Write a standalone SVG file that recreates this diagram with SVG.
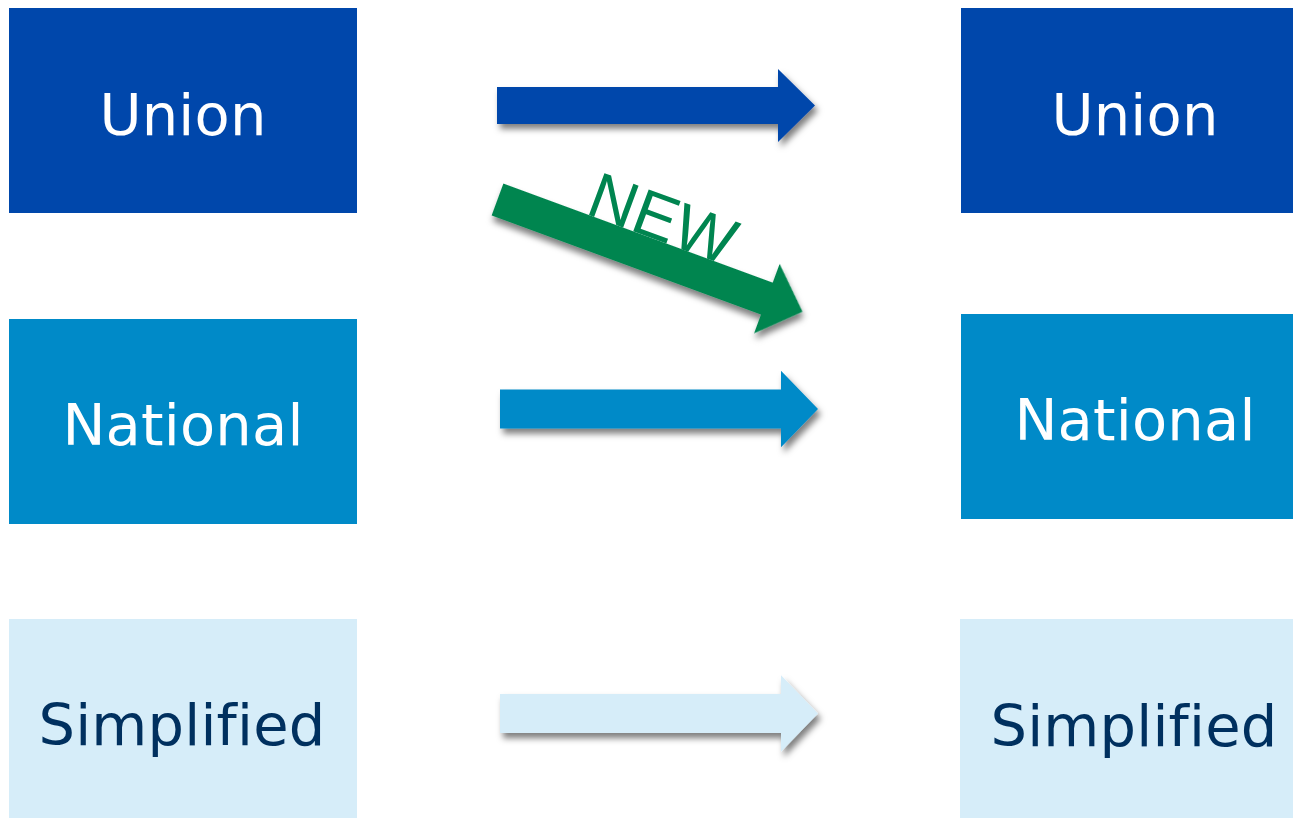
<svg xmlns="http://www.w3.org/2000/svg" width="1293" height="818" viewBox="0 0 1293 818">
<style>
.lbl{font-family:"DejaVu Sans","Verdana",sans-serif;font-size:57.5px;text-anchor:middle;font-variant-ligatures:none;font-feature-settings:"liga" 0;letter-spacing:0.2px}
.w{fill:#ffffff}
.d{fill:#00305f}
.u{fill:#0047AB}
.n{fill:#008AC8}
.s{fill:#D6EDF9}
.g{fill:#008550}
</style>
<defs>
<filter id="sh" x="-10%" y="-30%" width="125%" height="170%">
<feDropShadow dx="3" dy="5" stdDeviation="3" flood-color="#000" flood-opacity="0.5"/>
</filter>
<path id="arr" d="M0,-18.5 H281 V-36.5 L318,0 L281,36.5 V18.5 H0 Z"/>
</defs>
<rect width="1293" height="818" fill="#ffffff"/>
<g id="left-union"><rect class="u" x="9" y="8" width="348" height="205"/><text class="lbl w" x="183" y="135">Union</text></g>
<g id="left-national"><rect class="n" x="9" y="319" width="348" height="205"/><text class="lbl w" x="183" y="445">National</text></g>
<g id="left-simplified"><rect class="s" x="9" y="619" width="348" height="199"/><text class="lbl d" x="182" y="745">Simplified</text></g>
<g id="right-union"><rect class="u" x="961" y="8" width="332" height="205"/><text class="lbl w" x="1135" y="135">Union</text></g>
<g id="right-national"><rect class="n" x="961" y="314" width="332" height="205"/><text class="lbl w" x="1135" y="440">National</text></g>
<g id="right-simplified"><rect class="s" x="960" y="619" width="333" height="199"/><text class="lbl d" x="1134" y="746">Simplified</text></g>
<g id="connectors">
<use href="#arr" class="u" filter="url(#sh)" transform="translate(497,105.5)"/>
<use href="#arr" class="n" filter="url(#sh)" transform="translate(500,409) scale(1,1.05)"/>
<use href="#arr" class="s" filter="url(#sh)" transform="translate(500,713.5) scale(1,1.05)"/>
<g transform="translate(497.5,199.5) rotate(20.2)">
<path class="g" filter="url(#sh)" d="M0,-17 H287 V-37 L325,0 L287,37 V17 H0 Z"/>
<text x="86" y="-17" class="g" style="font-family:'Liberation Sans',Arial,sans-serif;font-size:65px">NEW</text>
</g>
</g>
</svg>
